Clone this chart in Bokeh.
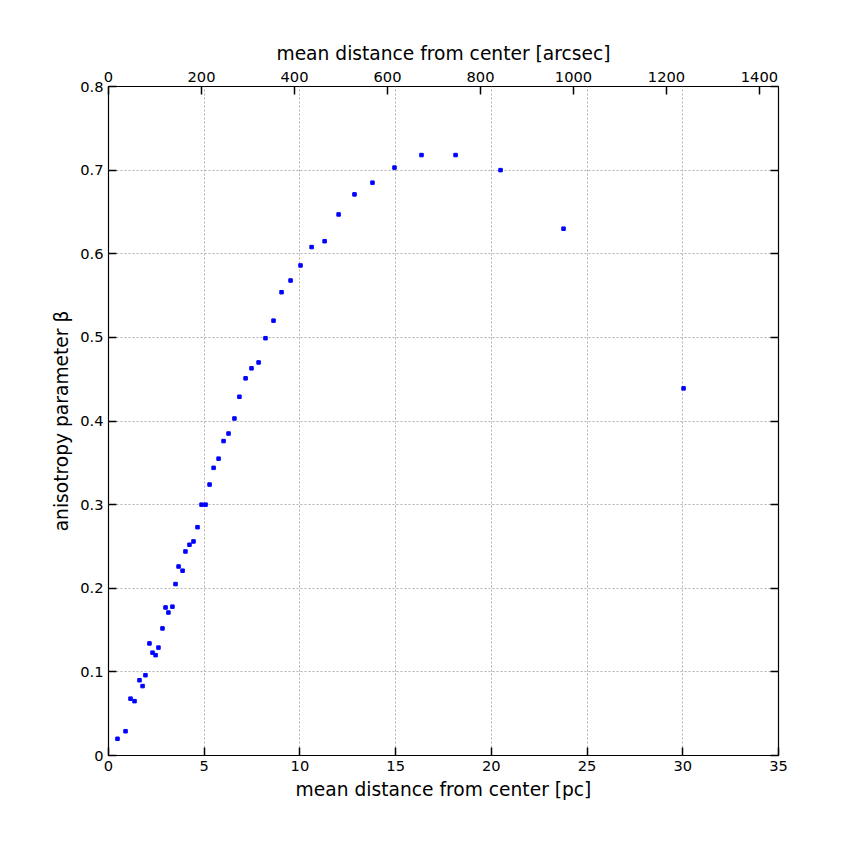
from bokeh.embed import file_html
from bokeh.models import LinearAxis, Range1d, FixedTicker
from bokeh.plotting import figure
from bokeh.resources import INLINE

r_pc = [0.47, 0.89, 1.15, 1.36, 1.62, 1.78, 1.93, 2.14, 2.30, 2.46, 2.61, 2.82, 2.98, 3.13,
        3.34, 3.50, 3.66, 3.87, 4.02, 4.23, 4.44, 4.65, 4.86, 5.07, 5.28, 5.49, 5.75, 6.01,
        6.27, 6.58, 6.84, 7.16, 7.47, 7.84, 8.20, 8.62, 9.04, 9.51, 10.03, 10.61, 11.29,
        12.02, 12.85, 13.79, 14.94, 16.35, 18.13, 20.48, 23.77, 30.04]
beta = [0.020, 0.029, 0.068, 0.065, 0.090, 0.083, 0.096, 0.134, 0.123, 0.120, 0.129, 0.152,
        0.177, 0.171, 0.178, 0.205, 0.226, 0.221, 0.244, 0.252, 0.256, 0.273, 0.300, 0.300,
        0.324, 0.344, 0.355, 0.376, 0.385, 0.403, 0.429, 0.451, 0.463, 0.470, 0.499, 0.520,
        0.554, 0.568, 0.586, 0.608, 0.615, 0.647, 0.671, 0.685, 0.703, 0.718, 0.718, 0.700,
        0.630, 0.439]
ARCSEC_PER_PC = 41.17

FONT = "DejaVu Sans"
pc_ticks = list(range(0, 36, 5))
beta_ticks = [i / 10 for i in range(9)]

p = figure(width=848, height=848, x_range=(0, 35), y_range=(0, 0.8),
           output_backend="svg", toolbar_location=None,
           min_border_left=108, min_border_right=70, min_border_top=86, min_border_bottom=93)
p.outline_line_color = "black"
p.outline_line_width = 1.2

p.scatter(r_pc, beta, marker="square", size=3.5, color="blue")

bottom = p.below[0]
left = p.left[0]
bottom.ticker = FixedTicker(ticks=pc_ticks)
left.ticker = FixedTicker(ticks=beta_ticks)
bottom.axis_label = "mean distance from center [pc]"
left.axis_label = "anisotropy parameter β"
left.formatter.precision = 1

p.extra_x_ranges = {"arcsec": Range1d(0, 35 * ARCSEC_PER_PC)}
top = LinearAxis(x_range_name="arcsec", axis_label="mean distance from center [arcsec]",
                 ticker=FixedTicker(ticks=list(range(0, 1401, 200))))
p.add_layout(top, "above")
right = LinearAxis(ticker=FixedTicker(ticks=beta_ticks))
p.add_layout(right, "right")

for ax in [bottom, left, top, right]:
    ax.axis_line_color = None
    ax.major_tick_in = 8
    ax.major_tick_out = 0
    ax.major_tick_line_width = 1.5
    ax.major_tick_line_color = "black"
    ax.minor_tick_line_color = None
    ax.major_label_text_font = FONT
    ax.major_label_text_font_size = "11pt"
    ax.major_label_text_color = "black"
    ax.axis_label_text_font = FONT
    ax.axis_label_text_font_size = "14pt"
    ax.axis_label_text_font_style = "normal"
    ax.axis_label_text_color = "black"
right.major_label_text_color = None

p.xgrid.ticker = FixedTicker(ticks=pc_ticks)
p.ygrid.ticker = FixedTicker(ticks=beta_ticks)
p.grid.grid_line_color = "#b0b0b0"
p.grid.grid_line_dash = "2 2"

open("out.html", "w").write(file_html(p, INLINE))
